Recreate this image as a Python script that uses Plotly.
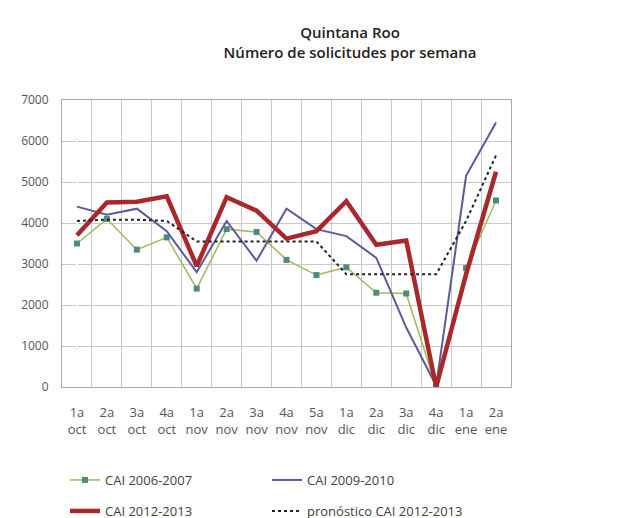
import plotly.graph_objects as go

semanas = ["1a<br>oct", "2a<br>oct", "3a<br>oct", "4a<br>oct", "1a<br>nov", "2a<br>nov", "3a<br>nov",
           "4a<br>nov", "5a<br>nov", "1a<br>dic", "2a<br>dic", "3a<br>dic", "4a<br>dic", "1a<br>ene", "2a<br>ene"]
cai_2006_2007 = [3500, 4100, 3350, 3650, 2400, 3850, 3780, 3100, 2730, 2920, 2300, 2280, 0, 2900, 4550]
cai_2009_2010 = [4400, 4200, 4350, 3800, 2800, 4050, 3080, 4350, 3850, 3680, 3150, 1450, 30, 5150, 6450]
cai_2012_2013 = [3700, 4500, 4520, 4650, 2950, 4630, 4300, 3620, 3800, 4530, 3470, 3570, 0, 2750, 5250]
pronostico = [4050, 4080, 4080, 4050, 3550, 3550, 3550, 3550, 3550, 2750, 2750, 2750, 2750, 4050, 5650]
y_ticks = [0, 1000, 2000, 3000, 4000, 5000, 6000, 7000]

x = list(range(len(semanas)))
fig = go.Figure()
fig.add_trace(go.Scatter(x=x, y=cai_2006_2007, name="CAI 2006-2007", mode="lines+markers",
                         line=dict(color="#9bbb59", width=1.5),
                         marker=dict(symbol="square", size=6, color="#4f8a7f"), legend="legend"))
fig.add_trace(go.Scatter(x=x, y=cai_2009_2010, name="CAI 2009-2010", mode="lines",
                         line=dict(color="#5b5b9b", width=2), legend="legend"))
fig.add_trace(go.Scatter(x=x, y=cai_2012_2013, name="CAI 2012-2013", mode="lines",
                         line=dict(color="#a8282b", width=4.5), legend="legend2"))
fig.add_trace(go.Scatter(x=x, y=pronostico, name="pronóstico CAI 2012-2013", mode="lines",
                         line=dict(color="#222222", width=2, dash="dot"), legend="legend2"))

font = "Open Sans, Liberation Sans, sans-serif"
legend_common = dict(orientation="h", xref="container", yref="container", x=57 / 638, xanchor="left",
                     yanchor="middle", entrywidth=157, entrywidthmode="pixels",
                     font=dict(family=font, size=13, color="#404040"), bgcolor="rgba(0,0,0,0)")
fig.update_layout(
    width=638, height=518,
    margin=dict(l=54, r=135, t=92, b=139, autoexpand=False),
    paper_bgcolor="white", plot_bgcolor="white",
    title=dict(text="Quintana Roo<br>Número de solicitudes por semana", x=342 / 638, xanchor="center",
               xref="container", y=1 - 30 / 518, yanchor="middle", yref="container",
               font=dict(family=font, size=15, weight=600, color="#222222")),
    showlegend=True,
    legend=dict(legend_common, y=1 - 472 / 518),
    legend2=dict(legend_common, y=1 - 503 / 518),
    xaxis=dict(range=[-0.5, len(semanas) - 0.5], tickmode="array", tickvals=x, ticktext=semanas,
               showgrid=False, ticks="", showline=True, linecolor="#aaaaaa", mirror=True,
               ticklabelstandoff=13,
               tickfont=dict(family=font, size=13, color="#555555")),
    yaxis=dict(range=[0, 7000], tickmode="array", tickvals=y_ticks, showgrid=True, gridcolor="#c8c8c8",
               showline=True, linecolor="#aaaaaa", mirror=True, zeroline=False, ticks="",
               ticklabelstandoff=10,
               tickfont=dict(family=font, size=12, color="#555555")),
)
fig.update_xaxes(minor=dict(tickmode="array", tickvals=[i - 0.5 for i in range(len(semanas) + 1)],
                            showgrid=True, gridcolor="#c8c8c8", gridwidth=1, ticks=""))
fig.write_html("out.html")
